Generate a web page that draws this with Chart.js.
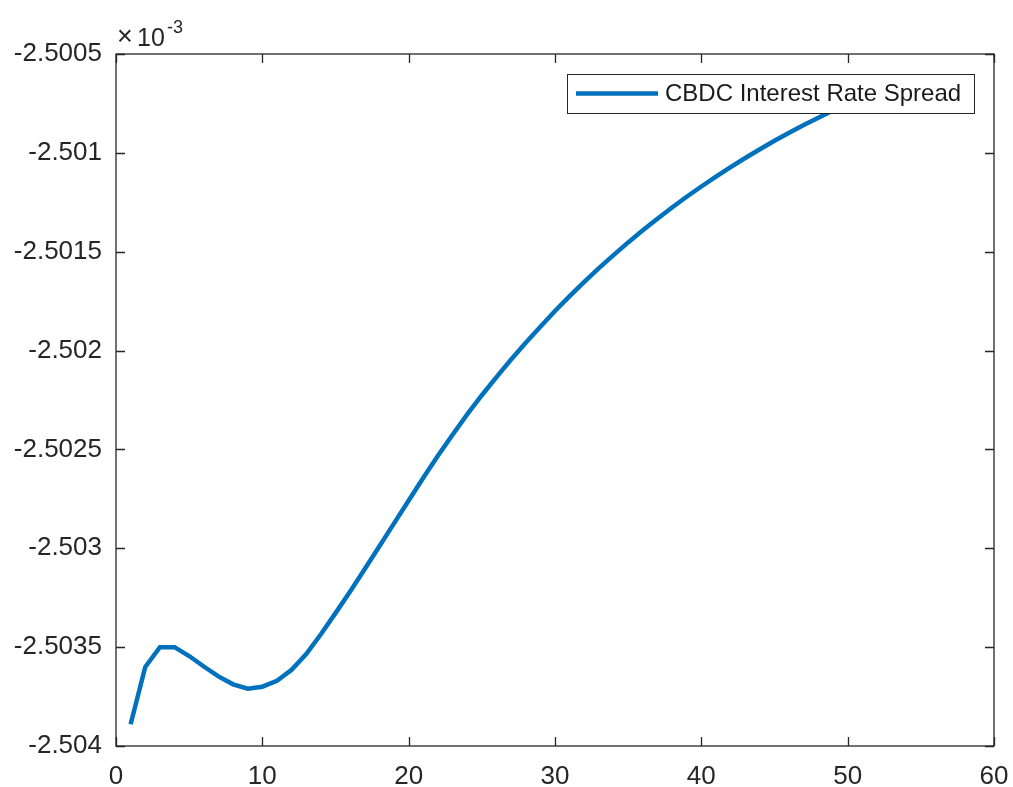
<!DOCTYPE html>
<html>
<head>
<meta charset="utf-8">
<script src="https://cdn.jsdelivr.net/npm/chart.js@4"></script>
<style>
  body { margin: 0; background: #fff; }
  #wrap { width: 1013px; height: 787px; }
</style>
</head>
<body>
<div id="wrap"><canvas id="myChart"></canvas></div>
<script>
// values, y in units of 1e-3
const periods = [];
for (let i = 1; i <= 50; i++) periods.push(i);
const spread = [
  -2.503890, -2.503600, -2.503500, -2.503500, -2.503545, -2.503598, -2.503648, -2.503688, -2.503710, -2.503700,
  -2.503670, -2.503615, -2.503535, -2.503435, -2.503328, -2.503218, -2.503105, -2.502990, -2.502874, -2.502758,
  -2.502643, -2.502532, -2.502426, -2.502323, -2.502226, -2.502134, -2.502045, -2.501960, -2.501879, -2.501800,
  -2.501725, -2.501653, -2.501583, -2.501517, -2.501453, -2.501392, -2.501333, -2.501276, -2.501222, -2.501170,
  -2.501120, -2.501072, -2.501026, -2.500982, -2.500939, -2.500898, -2.500859, -2.500822, -2.500786, -2.500752
];
const xTicks = [0, 10, 20, 30, 40, 50, 60];
const yTicks = [-2.504, -2.5035, -2.503, -2.5025, -2.502, -2.5015, -2.501, -2.5005];
const seriesName = 'CBDC Interest Rate Spread';

const axisColor = '#262626';
const fontFam = '"Liberation Sans", Arial, sans-serif';

// MATLAB style box with inward ticks, legend and exponent label
const matlabBox = {
  id: 'matlabBox',
  afterDraw(chart) {
    const ctx = chart.ctx;
    const a = chart.chartArea;
    const xs = chart.scales.x, ys = chart.scales.y;
    ctx.save();
    ctx.strokeStyle = axisColor;
    ctx.lineWidth = 1.3;
    ctx.strokeRect(a.left, a.top, a.right - a.left, a.bottom - a.top);
    const tl = 9;
    ctx.beginPath();
    xTicks.forEach(v => {
      const px = Math.round(xs.getPixelForValue(v)) + 0.5;
      ctx.moveTo(px, a.bottom); ctx.lineTo(px, a.bottom - tl);
      ctx.moveTo(px, a.top); ctx.lineTo(px, a.top + tl);
    });
    yTicks.forEach(v => {
      const py = Math.round(ys.getPixelForValue(v)) + 0.5;
      ctx.moveTo(a.left, py); ctx.lineTo(a.left + tl, py);
      ctx.moveTo(a.right, py); ctx.lineTo(a.right - tl, py);
    });
    ctx.stroke();

    // exponent
    ctx.fillStyle = axisColor;
    ctx.textBaseline = 'alphabetic';
    ctx.textAlign = 'left';
    ctx.font = '27px ' + fontFam;
    ctx.fillText('\u00d7', a.left + 1, a.top - 9);
    ctx.font = '25px ' + fontFam;
    ctx.fillText('10', a.left + 21, a.top - 8);
    ctx.font = '18px ' + fontFam;
    ctx.fillText('-3', a.left + 51, a.top - 21);

    // legend
    const ds = chart.data.datasets[0];
    const bx = 567, by = 74, bw = 407, bh = 39;
    ctx.fillStyle = '#fff';
    ctx.fillRect(bx, by, bw, bh);
    ctx.strokeStyle = axisColor;
    ctx.lineWidth = 1;
    ctx.strokeRect(bx + 0.5, by + 0.5, bw, bh);
    ctx.strokeStyle = ds.borderColor;
    ctx.lineWidth = ds.borderWidth;
    ctx.beginPath();
    ctx.moveTo(bx + 9, by + 19.5);
    ctx.lineTo(bx + 91, by + 19.5);
    ctx.stroke();
    ctx.fillStyle = '#1a1a1a';
    ctx.font = '24px ' + fontFam;
    ctx.textBaseline = 'middle';
    ctx.fillText(ds.label, bx + 98, by + 20);
    ctx.restore();
  }
};

const ctx = document.getElementById('myChart').getContext('2d');
new Chart(ctx, {
  type: 'line',
  data: {
    datasets: [{
      label: seriesName,
      data: periods.map((p, i) => ({ x: p, y: spread[i] })),
      borderColor: '#0072BD',
      borderWidth: 4.5,
      pointRadius: 0,
      tension: 0,
      fill: false
    }]
  },
  options: {
    responsive: true,
    maintainAspectRatio: false,
    animation: false,
    layout: { padding: { top: 54, right: 19, left: 0, bottom: 0 } },
    plugins: { legend: { display: false }, tooltip: { enabled: false } },
    scales: {
      x: {
        type: 'linear',
        min: 0, max: 60,
        afterBuildTicks: s => { s.ticks = xTicks.map(v => ({ value: v })); },
        afterFit: s => { s.height = 41; s.paddingLeft = 0; s.paddingRight = 0; },
        grid: { display: false, drawTicks: false },
        border: { display: false },
        ticks: { color: axisColor, font: { family: fontFam, size: 26 }, padding: 15, maxRotation: 0 }
      },
      y: {
        min: -2.504, max: -2.5005,
        afterBuildTicks: s => { s.ticks = yTicks.map(v => ({ value: v })); },
        afterFit: s => { s.width = 116; s.paddingTop = 0; s.paddingBottom = 0; },
        grid: { display: false, drawTicks: false },
        border: { display: false },
        ticks: {
          color: axisColor,
          font: { family: fontFam, size: 26 },
          padding: 14,
          callback: v => String(parseFloat(v.toFixed(4)))
        }
      }
    }
  },
  plugins: [matlabBox]
});
</script>
</body>
</html>
